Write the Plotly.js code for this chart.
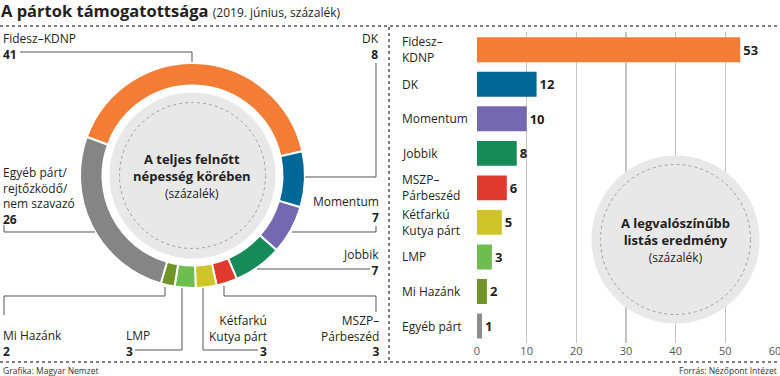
<!DOCTYPE html>
<html><head><meta charset="utf-8">
<script src="https://cdn.plot.ly/plotly-3.0.1.min.js"></script>
<style>html,body{margin:0;padding:0;background:#fff}#chart{width:780px;height:376px}</style>
</head><body><div id="chart"></div>
<script>
// ---- data ----
const donutLabels = ["Fidesz–KDNP","DK","Momentum","Jobbik","MSZP–Párbeszéd","Kétfarkú Kutya párt","LMP","Mi Hazánk","Egyéb párt/rejtőzködő/nem szavazó"];
const donutValues = [41,8,7,7,3,3,3,2,26];
const donutColors = ["#f47d35","#006796","#7468b0","#168a58","#e03a2e","#cfc52a","#6dbd4f","#6f9427","#858585"];
const donutLabelText = ["Fidesz–KDNP","DK","Momentum","Jobbik","MSZP–<br>Párbeszéd","Kétfarkú<br>Kutya párt","LMP","Mi Hazánk","Egyéb párt/<br>rejtőzködő/<br>nem szavazó"];

const barCategories = ["Fidesz–KDNP","DK","Momentum","Jobbik","MSZP–Párbeszéd","Kétfarkú Kutya párt","LMP","Mi Hazánk","Egyéb párt"];
const barValues = [53,12,10,8,6,5,3,2,1];
const barColors = ["#f47d35","#006796","#7468b0","#168a58","#e03a2e","#cfc52a","#6dbd4f","#6f9427","#8c8c8c"];
const barLabelText = ["Fidesz–<br>KDNP","DK","Momentum","Jobbik","MSZP–<br>Párbeszéd","Kétfarkú<br>Kutya párt","LMP","Mi Hazánk","Egyéb párt"];
const xTicks = [0,10,20,30,40,50,60];

// ---- layout helpers (pixel -> paper) ----
const W = 780, H = 376;
const px = x => x / W;
const py = y => 1 - y / H;
const FONT = "Open Sans, sans-serif";
const DARK = "#231f20";

// donut geometry
const cx = 192.5, cy = 175.5, R = 112.5;

// label placement for donut: [anchorX, xanchor, numberCenterY]
const donutLabelPos = [
  [2, "left", 53], [380, "right", 53], [380, "right", 217], [380, "right", 269],
  [380, "right", 350], [268, "right", 350], [125, "left", 350], [2, "left", 350], [2, "left", 217]
];
// leader lines (pixel polylines)
const leaders = [
  [[20,52],[192,52],[192,62]],
  [[305,177],[376,177],[376,63]],
  [[292,232],[376,232],[376,226]],
  [[257,269],[370,269]],
  [[224,286],[224,296],[376,296],[376,312]],
  [[203,288],[203,350],[258,350]],
  [[182,288],[182,350],[135,350]],
  [[165,287],[165,296],[4,296],[4,315]],
  [[95,232],[4,232],[4,225]]
];

const shapes = [];
const annotations = [];

// separators
const dotLine = {color:"#555", width:1.5, dash:"dot"};
shapes.push({type:"line", xref:"paper", yref:"paper", x0:0, x1:1, y0:py(26), y1:py(26), line:dotLine});
shapes.push({type:"line", xref:"paper", yref:"paper", x0:0, x1:1, y0:py(362), y1:py(362), line:dotLine});
shapes.push({type:"line", xref:"paper", yref:"paper", x0:px(389), x1:px(389), y0:py(27), y1:py(361), line:dotLine});

// donut centre disc
const discR = 83, dotR = 73;
shapes.push({type:"circle", xref:"paper", yref:"paper", layer:"below",
  x0:px(cx-discR), x1:px(cx+discR), y0:py(cy+discR), y1:py(cy-discR),
  fillcolor:"#e8e8e8", line:{width:0}});
shapes.push({type:"circle", xref:"paper", yref:"paper", layer:"above",
  x0:px(cx-dotR), x1:px(cx+dotR), y0:py(cy+dotR), y1:py(cy-dotR),
  fillcolor:"rgba(0,0,0,0)", line:{color:"#a0a0a0", width:1, dash:"dot"}});

// bar-panel circle
const bx = 675.5, by = 239.5, bR = 84, bdR = 75;
shapes.push({type:"circle", xref:"paper", yref:"paper", layer:"above",
  x0:px(bx-bR), x1:px(bx+bR), y0:py(by+bR), y1:py(by-bR),
  fillcolor:"#e8e8e8", line:{width:0}});
shapes.push({type:"circle", xref:"paper", yref:"paper", layer:"above",
  x0:px(bx-bdR), x1:px(bx+bdR), y0:py(by+bdR), y1:py(by-bdR),
  fillcolor:"rgba(0,0,0,0)", line:{color:"#a0a0a0", width:1, dash:"dot"}});

// leader lines
leaders.forEach(pts => {
  const d = pts.map((p,i) => (i ? "L" : "M") + px(p[0]).toFixed(5) + "," + py(p[1]).toFixed(5)).join(" ");
  shapes.push({type:"path", xref:"paper", yref:"paper", path:d, line:{color:"#555", width:1}});
});

// donut labels: one multi-line block, centred on the reference block centre
donutLabelText.forEach((t, i) => {
  const [ax, anc, ny] = donutLabelPos[i];
  const n = t.split("<br>").length + 1;
  annotations.push({xref:"paper", yref:"paper", x:px(ax), y:py(ny - (n - 1) * 7), xanchor:anc, yanchor:"middle",
    align:anc, showarrow:false, borderpad:0,
    text:t + "<br><b>" + donutValues[i] + "</b>", font:{family:FONT, size:12, color:DARK}});
});

// donut centre text
annotations.push({xref:"paper", yref:"paper", x:px(cx-1), y:py(176), xanchor:"center", yanchor:"middle", showarrow:false,
  text:"<b>A teljes felnőtt<br>népesség körében</b><br><span style='font-size:12px;font-weight:400'>(százalék)</span>",
  font:{family:FONT, size:13, color:DARK}});
// bar circle text
annotations.push({xref:"paper", yref:"paper", x:px(bx), y:py(240), xanchor:"center", yanchor:"middle", showarrow:false,
  text:"<b>A legvalószínűbb<br>listás eredmény</b><br><span style='font-size:12px;font-weight:400'>(százalék)</span>",
  font:{family:FONT, size:13, color:DARK}});

// bar category labels
barCategories.forEach((c, i) => {
  annotations.push({xref:"paper", yref:"y", x:px(401), y:c, xanchor:"left", yanchor:"middle", align:"left",
    showarrow:false, borderpad:0, text:barLabelText[i], font:{family:FONT, size:12, color:DARK}});
});

// footer
annotations.push({xref:"paper", yref:"paper", x:px(1), y:py(370), xanchor:"left", yanchor:"middle", showarrow:false,
  text:"Grafika: Magyar Nemzet", font:{family:FONT, size:8.5, color:"#333"}});
annotations.push({xref:"paper", yref:"paper", x:px(779), y:py(370), xanchor:"right", yanchor:"middle", showarrow:false,
  text:"Forrás: Nézőpont Intézet", font:{family:FONT, size:8.5, color:"#333"}});

const traces = [
  {type:"pie", values:donutValues, labels:donutLabels, sort:false, direction:"clockwise", rotation:-70,
   hole:0.8, textinfo:"none", hoverinfo:"label+value", showlegend:false,
   marker:{colors:donutColors, line:{color:"#fff", width:2}},
   domain:{x:[px(cx-R), px(cx+R)], y:[py(cy+R), py(cy-R)]}},
  {type:"bar", orientation:"h", x:barValues, y:barCategories, marker:{color:barColors},
   text:barValues.map(String), textposition:"outside", cliponaxis:false,
   textfont:{family:FONT, size:13, color:DARK, weight:700}, hoverinfo:"y+x",
   xaxis:"x", yaxis:"y", showlegend:false}
];

const layout = {
  width:W, height:H, margin:{l:0, r:0, t:0, b:0}, paper_bgcolor:"#fff", plot_bgcolor:"rgba(0,0,0,0)",
  title:{text:"<b>A pártok támogatottsága</b> <span style='font-size:12px;font-weight:400'>(2019. június, százalék)</span>",
    x:px(1), xanchor:"left", xref:"paper", y:py(11), yanchor:"middle", yref:"paper",
    font:{family:FONT, size:16.5, color:DARK}},
  bargap:0.28,
  xaxis:{domain:[px(477), px(775)], range:[0,60], tickvals:xTicks, showgrid:true, gridcolor:"#c4c4c4", gridwidth:1.5,
    zeroline:false, showline:false, ticks:"", ticklabeloverflow:"allow",
    tickfont:{family:FONT, size:11, color:"#555"}, fixedrange:true},
  yaxis:{domain:[py(343.3), py(32.2)], type:"category", autorange:"reversed", showticklabels:false,
    showgrid:false, zeroline:false, showline:false, ticks:"", fixedrange:true},
  shapes:shapes, annotations:annotations, showlegend:false
};

Plotly.newPlot("chart", traces, layout, {displayModeBar:false, staticPlot:true});
</script></body></html>
